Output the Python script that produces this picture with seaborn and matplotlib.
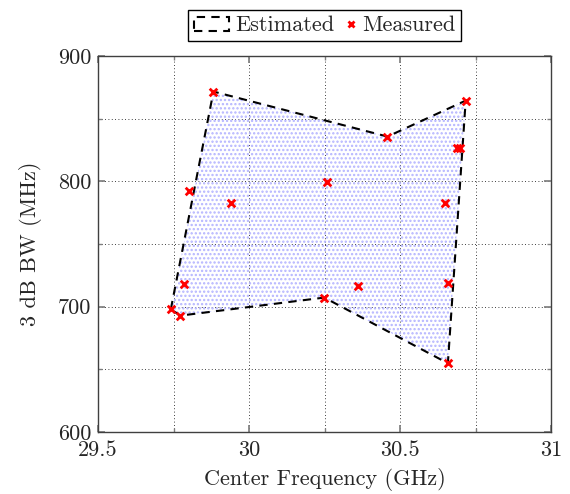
import matplotlib
matplotlib.use("Agg")
import matplotlib.pyplot as plt
import matplotlib.ticker as mticker
from matplotlib.patches import Patch
from matplotlib.lines import Line2D
from matplotlib.legend_handler import HandlerLine2D
import numpy as np
import seaborn as sns
import pandas as pd

# boundary of the estimated region (closed polygon)
est_freq = [29.741, 29.882, 30.458, 30.717, 30.658, 30.249, 29.772, 29.741]
est_bw = [698.0, 871.5, 835.6, 864.3, 654.8, 707.2, 692.8, 698.0]

# measured points
meas_freq = [29.882, 29.801, 29.941, 30.257, 30.717, 30.458, 30.688, 30.699,
             30.647, 29.783, 29.741, 29.772, 30.249, 30.359, 30.657, 30.658]
meas_bw = [871.5, 792.5, 782.7, 799.7, 864.3, 835.6, 826.8, 826.8,
           782.7, 718.1, 698.0, 692.8, 707.2, 716.7, 719.0, 654.8]


class RightMarker(HandlerLine2D):
    # put the legend marker at the right end of its box, next to the text
    def create_artists(self, legend, orig_handle, xdescent, ydescent,
                       width, height, fontsize, trans):
        arts = super().create_artists(legend, orig_handle, xdescent, ydescent,
                                      width, height, fontsize, trans)
        for a in arts:
            a.set_xdata(np.full(3, width - xdescent - 4))
        return arts


sns.set_theme(style="white")
plt.rcParams["font.family"] = ["cmr10", "DejaVu Serif"]
plt.rcParams["axes.formatter.use_mathtext"] = True
plt.rcParams["hatch.linewidth"] = 1.1

fig = plt.figure(figsize=(5.7, 4.94), dpi=100)
ax = fig.add_axes([0.172, 0.1255, 0.795, 0.7615])

est = pd.DataFrame({"freq": est_freq, "bw": est_bw})
meas = pd.DataFrame({"freq": meas_freq, "bw": meas_bw})

ax.fill(est["freq"], est["bw"], facecolor="none", edgecolor="#b4b4ff",
        hatch="....", linewidth=0, zorder=1)
sns.lineplot(data=est, x="freq", y="bw", sort=False, estimator=None, ax=ax,
             color="black", linestyle=(0, (4, 3)), linewidth=1.5,
             label="Estimated", zorder=3, legend=False)
sns.scatterplot(data=meas, x="freq", y="bw", ax=ax, marker="x", color="red",
                s=30, linewidth=2, zorder=4, legend=False)

ax.set_xlim(29.5, 31)
ax.set_ylim(600, 900)
ax.xaxis.set_major_locator(mticker.MultipleLocator(0.5))
ax.xaxis.set_minor_locator(mticker.MultipleLocator(0.25))
ax.yaxis.set_major_locator(mticker.MultipleLocator(100))
ax.yaxis.set_minor_locator(mticker.MultipleLocator(50))
ax.xaxis.set_major_formatter(mticker.FuncFormatter(lambda v, p: "%g" % v))
ax.yaxis.set_major_formatter(mticker.FuncFormatter(lambda v, p: "%g" % v))
ax.grid(True, which="both", color="black", linestyle=(0, (1, 3)), linewidth=0.6)
ax.tick_params(which="both", direction="in", top=True, right=True,
               bottom=True, left=True, labelsize=16, color="#808080")
ax.tick_params(which="major", length=5)
ax.tick_params(which="minor", length=3)
ax.tick_params(axis="x", pad=6)
ax.tick_params(axis="y", pad=5)
for s in ax.spines.values():
    s.set_color("#404040")
    s.set_linewidth(1)

ax.set_xlabel("Center Frequency (GHz)", fontsize=16, labelpad=6)
ax.set_ylabel("3 dB BW (MHz)", fontsize=16, labelpad=11)

h_est = Patch(facecolor="none", edgecolor="black", linestyle=(0, (4, 3)),
              linewidth=1.5)
h_meas = Line2D([], [], marker="x", color="red", linestyle="none",
                markersize=5, markeredgewidth=2)
leg = ax.legend([h_est, h_meas], ["Estimated", "Measured"],
                handler_map={h_meas: RightMarker(numpoints=1)},
                loc="lower center", bbox_to_anchor=(0.5, 1.01),
                ncol=2, fontsize=16, frameon=True, fancybox=False,
                edgecolor="black", framealpha=1, handlelength=1.6,
                handleheight=0.6, handletextpad=0.25, columnspacing=-0.6,
                borderpad=0.25)
leg.get_frame().set_linewidth(1)

fig.savefig("out.png", dpi=100)
